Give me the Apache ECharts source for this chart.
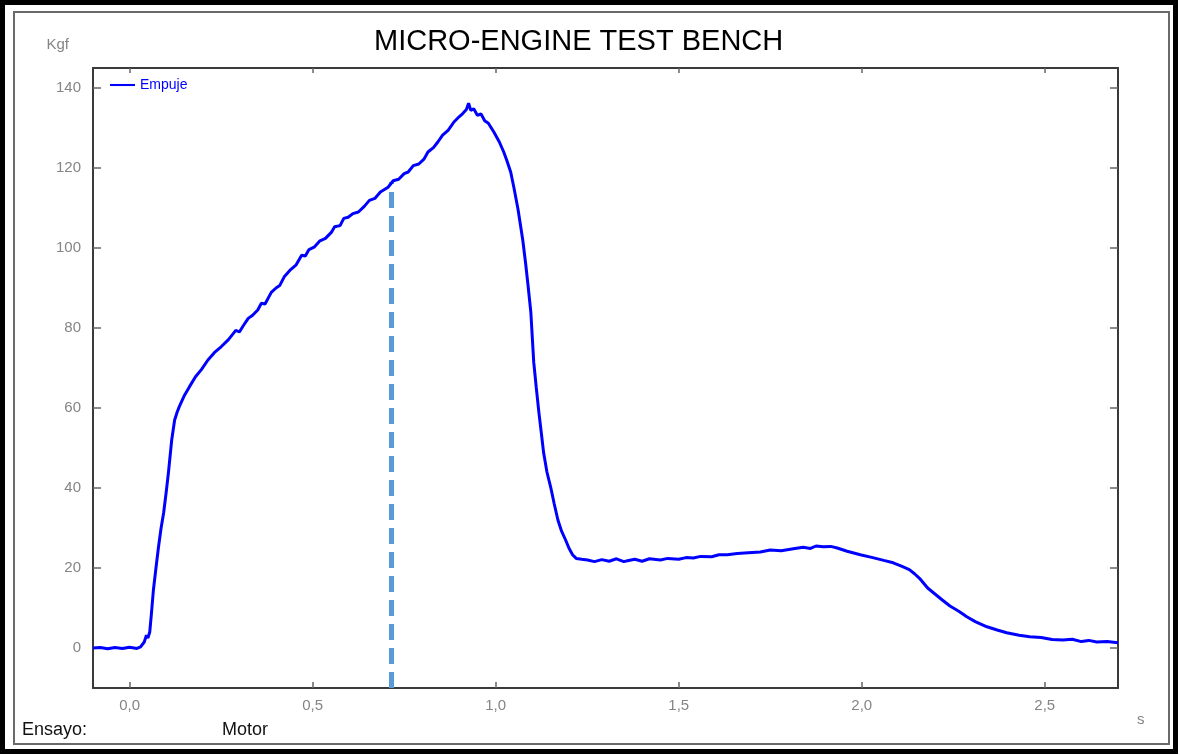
<!DOCTYPE html>
<html>
<head>
<meta charset="utf-8">
<script src="https://cdn.jsdelivr.net/npm/echarts@6/dist/echarts.min.js"></script>
<style>
  html, body { margin: 0; padding: 0; background: #fff; }
  #chart { width: 1180px; height: 755px; }
</style>
</head>
<body>
<div id="chart"></div>
<script>
// ---- Data ----
const chartTitle = 'MICRO-ENGINE TEST BENCH';
const seriesName = 'Empuje';
const yUnit = 'Kgf';
const xUnit = 's';
const xTickValues = [0, 0.5, 1.0, 1.5, 2.0, 2.5];
const yTickValues = [0, 20, 40, 60, 80, 100, 120, 140];
const footerLabels = ['Ensayo:', 'Motor'];

// time (s)
const timeS = [
  -0.1, -0.08, -0.06, -0.04, -0.02, 0, 0.02, 0.03, 0.04, 0.046, 0.05, 0.055,
  0.06, 0.065, 0.072, 0.079, 0.086, 0.093, 0.1, 0.106, 0.115, 0.123, 0.13, 0.136,
  0.15, 0.164, 0.18, 0.196, 0.214, 0.232, 0.25, 0.27, 0.29, 0.3, 0.31, 0.324,
  0.336, 0.35, 0.36, 0.37, 0.387, 0.4, 0.41, 0.423, 0.44, 0.455, 0.47, 0.48,
  0.49, 0.504, 0.52, 0.535, 0.551, 0.56, 0.575, 0.585, 0.597, 0.61, 0.625, 0.641,
  0.655, 0.67, 0.685, 0.706, 0.72, 0.735, 0.75, 0.761, 0.775, 0.79, 0.804, 0.815,
  0.83, 0.842, 0.855, 0.87, 0.886, 0.9, 0.91, 0.92, 0.926, 0.932, 0.94, 0.95,
  0.96, 0.97, 0.98, 0.995, 1.01, 1.022, 1.03, 1.041, 1.05, 1.061, 1.074, 1.082,
  1.088, 1.096, 1.104, 1.111, 1.118, 1.125, 1.131, 1.14, 1.15, 1.16, 1.17, 1.18,
  1.191, 1.2, 1.21, 1.22, 1.235, 1.251, 1.27, 1.29, 1.31, 1.33, 1.35, 1.36,
  1.38, 1.4, 1.42, 1.45, 1.47, 1.5, 1.52, 1.54, 1.56, 1.59, 1.61, 1.633,
  1.66, 1.69, 1.723, 1.75, 1.78, 1.813, 1.84, 1.86, 1.875, 1.895, 1.915, 1.933,
  1.96, 1.996, 2.03, 2.06, 2.086, 2.11, 2.13, 2.145, 2.16, 2.18, 2.2, 2.22,
  2.241, 2.265, 2.287, 2.31, 2.342, 2.37, 2.396, 2.43, 2.459, 2.49, 2.52, 2.549,
  2.575, 2.6, 2.62, 2.642, 2.67, 2.7
];
// thrust (Kgf)
const thrustKgf = [
  0, 0.1, -0.2, 0.1, -0.1, 0.2, -0.1, 0.3, 1.5, 3.2, 2.5, 4,
  9, 14.5, 20, 25.3, 30, 33.8, 39, 43.8, 52, 57, 59, 60.4,
  63.2, 65.4, 67.8, 69.6, 72, 73.9, 75.3, 77.1, 79.4, 79.0, 80.5, 82.4,
  83.2, 84.5, 86.2, 86.0, 88.9, 90.0, 90.6, 92.9, 94.6, 95.8, 98.2, 98.0,
  99.6, 100.2, 101.8, 102.4, 103.9, 105.3, 105.6, 107.4, 107.7, 108.6, 109.0, 110.4,
  111.9, 112.4, 114.0, 115.2, 116.8, 117.2, 118.6, 119.0, 120.6, 121.0, 122.2, 124.0,
  125.1, 126.5, 128.2, 129.4, 131.5, 132.8, 133.6, 134.6, 136.2, 134.4, 134.8, 133.2,
  133.5, 131.8, 131.2, 129, 126.5, 124, 122, 119, 115, 109.7, 102, 96,
  91, 84, 71.4, 65, 58.9, 53.5, 48.8, 44, 40.3, 36, 32, 29.2,
  27, 25, 23.3, 22.4, 22.2, 22, 21.6, 22.1, 21.7, 22.3, 21.6, 21.8,
  22.2, 21.7, 22.3, 22.0, 22.4, 22.2, 22.6, 22.5, 22.9, 22.8, 23.3, 23.3,
  23.6, 23.8, 24, 24.5, 24.3, 24.8, 25.2, 24.9, 25.5, 25.3, 25.4, 25,
  24.2, 23.3, 22.6, 21.9, 21.3, 20.4, 19.6, 18.5, 17.2, 15.0, 13.5, 12.0,
  10.5, 9.2, 7.8, 6.6, 5.3, 4.5, 3.8, 3.2, 2.8, 2.6, 2.1, 2,
  2.2, 1.6, 1.9, 1.5, 1.6, 1.3
];
// dashed marker
const markerTime = 0.715;
const markerThrust = 116.5;
const axisBottom = -10;

const seriesData = timeS.map((t, i) => [t, thrustKgf[i]]);
const fmtX = v => Number(v).toFixed(1).replace('.', ',');

const chart = echarts.init(document.getElementById('chart'), null, { renderer: 'canvas' });
const labelColor = '#858585';
const axisColor = '#3a3a3a';
const fontFam = '"Liberation Sans", Arial, sans-serif';

chart.setOption({
  animation: false,
  backgroundColor: '#ffffff',
  title: {
    text: chartTitle,
    left: 369,
    top: 22,
    textStyle: { fontFamily: fontFam, fontSize: 29, fontWeight: 'normal', color: '#000' }
  },
  legend: {
    data: [seriesName],
    left: 105,
    top: 73,
    itemWidth: 25,
    itemHeight: 10,
    itemGap: 6,
    textStyle: { color: '#0000ff', fontFamily: fontFam, fontSize: 14 },
    icon: 'path://M0,4 L24,4 L24,6 L0,6 Z'
  },
  grid: { left: 93, right: 62, top: 68, bottom: 67, containLabel: false },
  xAxis: [
    {
      type: 'value', min: -0.1, max: 2.7, position: 'bottom',
      name: xUnit, nameLocation: 'end', nameGap: 19,
      nameTextStyle: { color: labelColor, fontFamily: fontFam, fontSize: 15, verticalAlign: 'top', padding: [24, 0, 0, 0] },
      axisLine: { show: true, onZero: false, lineStyle: { color: axisColor, width: 2 } },
      axisTick: { show: true, inside: true, length: 6, customValues: xTickValues, lineStyle: { color: '#666', width: 1.5 } },
      axisLabel: { show: true, customValues: xTickValues, formatter: fmtX, color: labelColor, fontFamily: fontFam, fontSize: 15, margin: 10 },
      splitLine: { show: false }
    },
    {
      type: 'value', min: -0.1, max: 2.7, position: 'top',
      axisLine: { show: true, onZero: false, lineStyle: { color: axisColor, width: 2 } },
      axisTick: { show: true, inside: true, length: 5, customValues: xTickValues, lineStyle: { color: '#666', width: 1.5 } },
      axisLabel: { show: false },
      splitLine: { show: false }
    }
  ],
  yAxis: [
    {
      type: 'value', min: axisBottom, max: 145, position: 'left',
      name: yUnit, nameLocation: 'end', nameGap: 16,
      nameTextStyle: { color: labelColor, fontFamily: fontFam, fontSize: 15, align: 'right', padding: [0, 24, 0, 0] },
      axisLine: { show: true, onZero: false, lineStyle: { color: axisColor, width: 2 } },
      axisTick: { show: true, inside: true, length: 8, customValues: yTickValues, lineStyle: { color: '#666', width: 1.5 } },
      axisLabel: { show: true, customValues: yTickValues, color: labelColor, fontFamily: fontFam, fontSize: 15, margin: 12 },
      splitLine: { show: false }
    },
    {
      type: 'value', min: axisBottom, max: 145, position: 'right',
      axisLine: { show: true, onZero: false, lineStyle: { color: axisColor, width: 2 } },
      axisTick: { show: true, inside: true, length: 8, customValues: yTickValues, lineStyle: { color: '#666', width: 1.5 } },
      axisLabel: { show: false },
      splitLine: { show: false }
    }
  ],
  series: [
    {
      name: seriesName,
      type: 'line',
      xAxisIndex: 0,
      yAxisIndex: 0,
      data: seriesData,
      showSymbol: false,
      symbol: 'none',
      smooth: false,
      lineStyle: { color: '#0000ff', width: 3 },
      itemStyle: { color: '#0000ff' },
      z: 3,
      markLine: {
        silent: true,
        symbol: ['none', 'none'],
        label: { show: false },
        lineStyle: { color: '#5b9bd5', width: 5, type: [16, 8] },
        data: [[
          { coord: [markerTime, axisBottom] },
          { coord: [markerTime, markerThrust] }
        ]],
        z: 2
      }
    }
  ],
  graphic: [
    {
      type: 'rect', silent: true, z: 100,
      shape: { x: 14, y: 12, width: 1155, height: 732 },
      style: { fill: 'none', stroke: '#6a6a6a', lineWidth: 2 }
    },
    {
      type: 'rect', silent: true, z: 101,
      shape: { x: 2.5, y: 2.5, width: 1173, height: 749 },
      style: { fill: 'none', stroke: '#000', lineWidth: 5 }
    },
    {
      type: 'text', silent: true, z: 50, left: 22, top: 721,
      style: { text: footerLabels[0], fill: '#111', font: '18px "Liberation Sans", Arial, sans-serif' }
    },
    {
      type: 'text', silent: true, z: 50, left: 222, top: 721,
      style: { text: footerLabels[1], fill: '#111', font: '18px "Liberation Sans", Arial, sans-serif' }
    }
  ]
});
</script>
</body>
</html>
